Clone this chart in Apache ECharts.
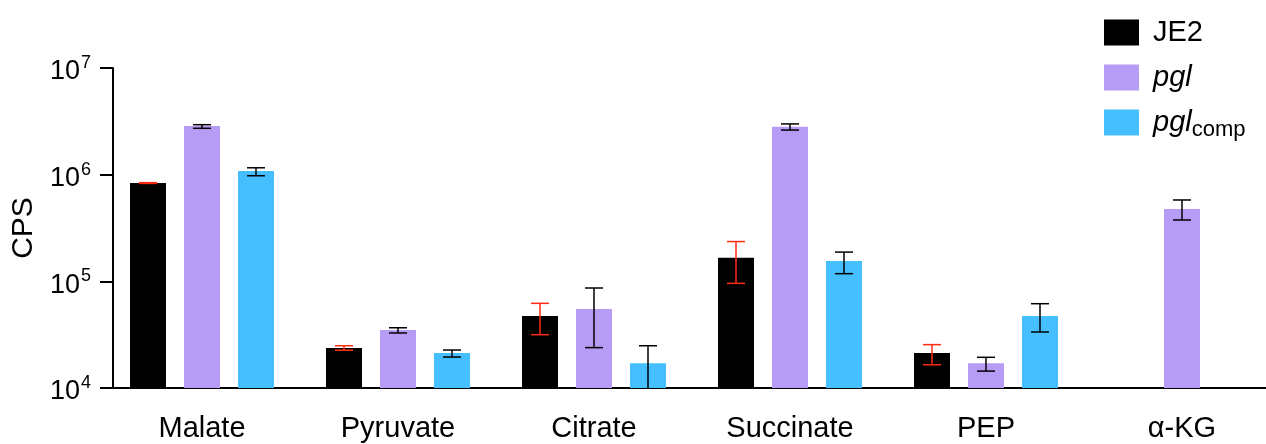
<!DOCTYPE html>
<html>
<head>
<meta charset="utf-8">
<script src="https://cdn.jsdelivr.net/npm/echarts@6/dist/echarts.min.js"></script>
<style>html,body{margin:0;padding:0;background:#fff}#c{width:1266px;height:444px}</style>
</head>
<body>
<div id="c"></div>
<script>
// ---- data ----
const categories = ['Malate', 'Pyruvate', 'Citrate', 'Succinate', 'PEP', 'α-KG'];
const seriesNames = ['JE2', 'pgl', 'pglcomp'];
const je2Mean = [8.35e5, 2.37e4, 4.73e4, 1.66e5, 2.13e4, null];
const je2Low  = [8.28e5, 2.26e4, 3.16e4, 9.57e4, 1.65e4, null];
const je2High = [8.42e5, 2.49e4, 6.22e4, 2.36e5, 2.55e4, null];
const pglMean = [2.86e6, 3.50e4, 5.51e4, 2.82e6, 1.71e4, 4.77e5];
const pglLow  = [2.72e6, 3.28e4, 2.39e4, 2.62e6, 1.44e4, 3.76e5];
const pglHigh = [2.94e6, 3.67e4, 8.66e4, 2.99e6, 1.94e4, 5.79e5];
const compMean = [1.08e6, 2.13e4, 1.71e4, 1.55e5, 4.73e4, null];
const compLow  = [0.977e6, 1.95e4, 0.93e4, 1.18e5, 3.35e4, null];
const compHigh = [1.16e6, 2.27e4, 2.49e4, 1.88e5, 6.17e4, null];
const yTicks = [1e4, 1e5, 1e6, 1e7];

// ---- style ----
const colors = ['#000000', '#b79cf5', '#45bfff'];
const errColors = ['#ff2a12', '#000000', '#000000'];
const BAR_W = 36, BAR_GAP = 18, CAP_W = 18;
const FONT = '"Liberation Sans", Arial, Helvetica, sans-serif';

const chart = echarts.init(document.getElementById('c'), null, {renderer: 'canvas'});

function errData(lo, hi) {
  const out = [];
  for (let i = 0; i < categories.length; i++) {
    if (lo[i] != null && hi[i] != null) out.push([i, lo[i], hi[i]]);
  }
  return out;
}

function makeErr(idx, lo, hi) {
  const off = (idx - 1) * (BAR_W + BAR_GAP);
  return {
    type: 'custom',
    name: seriesNames[idx] + '_err',
    z: 10,
    clip: true,
    data: errData(lo, hi),
    encode: {x: 0, y: [1, 2]},
    renderItem: function (params, api) {
      const c = api.value(0);
      const p1 = api.coord([c, api.value(1)]);
      const p2 = api.coord([c, api.value(2)]);
      const x = p1[0] + off;
      const st = {stroke: errColors[idx], lineWidth: 1.5};
      return {
        type: 'group',
        children: [
          {type: 'line', shape: {x1: x, y1: p1[1], x2: x, y2: p2[1]}, style: st},
          {type: 'line', shape: {x1: x - CAP_W / 2, y1: p1[1], x2: x + CAP_W / 2, y2: p1[1]}, style: st},
          {type: 'line', shape: {x1: x - CAP_W / 2, y1: p2[1], x2: x + CAP_W / 2, y2: p2[1]}, style: st}
        ]
      };
    }
  };
}

const option = {
  animation: false,
  grid: {left: 104, width: 1176, top: 68, height: 320, containLabel: false, outerBoundsMode: 'none'},
  legend: {
    orient: 'vertical',
    left: 1099,
    top: 13,
    itemWidth: 35,
    itemHeight: 26,
    itemGap: 16,
    icon: 'rect',
    data: seriesNames,
    formatter: function (name) {
      if (name === 'JE2') return '{n|JE2}';
      if (name === 'pgl') return '{i|pgl}';
      return '{i|pgl}{sub|comp}';
    },
    textStyle: {
      padding: [0, 0, 0, 9],
      rich: {
        n: {fontSize: 29, fontFamily: FONT, color: '#000'},
        i: {fontSize: 29, fontFamily: FONT, fontStyle: 'italic', color: '#000'},
        sub: {fontSize: 22, fontFamily: FONT, color: '#000', padding: [14, 0, 0, 0]}
      }
    }
  },
  xAxis: {
    type: 'category',
    data: categories,
    axisLine: {lineStyle: {color: '#000', width: 2}},
    axisTick: {alignWithLabel: true, length: 14, lineStyle: {color: '#000', width: 2}},
    axisLabel: {fontSize: 29, fontFamily: FONT, color: '#000', margin: 26}
  },
  yAxis: {
    type: 'log',
    logBase: 10,
    min: yTicks[0],
    max: yTicks[yTicks.length - 1],
    offset: -9,
    name: 'CPS',
    nameLocation: 'middle',
    nameGap: 74,
    nameTextStyle: {fontSize: 30, fontFamily: FONT, color: '#000'},
    splitLine: {show: false},
    minorTick: {show: false},
    axisLine: {show: true, lineStyle: {color: '#000', width: 2}},
    axisTick: {show: true, length: 13, lineStyle: {color: '#000', width: 2}},
    axisLabel: {
      margin: 22,
      formatter: function (v) {
        const e = Math.round(Math.log10(v));
        return '{b|10}{s|' + e + '}';
      },
      rich: {
        b: {fontSize: 27, fontFamily: FONT, color: '#000', padding: [8, 0, 0, 0]},
        s: {fontSize: 18, fontFamily: FONT, color: '#000', padding: [0, 0, 10, 1]}
      }
    }
  },
  series: [
    {type: 'bar', name: seriesNames[0], data: je2Mean, barWidth: BAR_W, barGap: '50%', itemStyle: {color: colors[0]}},
    {type: 'bar', name: seriesNames[1], data: pglMean, barWidth: BAR_W, barGap: '50%', itemStyle: {color: colors[1]}},
    {type: 'bar', name: seriesNames[2], data: compMean, barWidth: BAR_W, barGap: '50%', itemStyle: {color: colors[2]}},
    makeErr(0, je2Low, je2High),
    makeErr(1, pglLow, pglHigh),
    makeErr(2, compLow, compHigh)
  ]
};
chart.setOption(option);
</script>
</body>
</html>
